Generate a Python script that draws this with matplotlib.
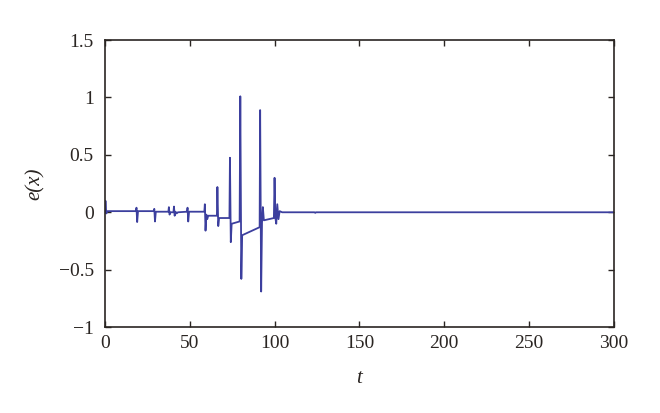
import matplotlib.pyplot as plt

# vertices of the error trace
t = [0, 0.3, 0.8, 1.5,
     18.3, 18.6, 19.0, 19.5,
     28.8, 29.1, 29.5, 30.0,
     37.4, 37.7, 38.1, 38.6,
     40.4, 40.7, 41.1, 41.6, 42.3, 43.0,
     48.4, 48.7, 49.1, 49.6,
     58.6, 58.9, 59.3, 59.8, 60.3, 60.9,
     66.0, 66.3, 66.8, 67.3,
     73.4, 73.7, 74.2, 74.7,
     79.4, 79.8, 80.4, 80.9,
     91.2, 91.5, 92.1, 92.6, 93.1, 93.7,
     99.6, 100.0, 100.5, 101.0, 101.6, 102.3, 103.0, 104.5,
     123.5, 124.0, 124.5, 300]
e = [0.0, 0.1, -0.01, 0.01,
     0.01, 0.04, -0.085, 0.01,
     0.01, 0.03, -0.08, 0.005,
     0.005, 0.045, -0.02, 0.0,
     0.0, 0.05, -0.03, 0.005, -0.01, 0.0,
     0.005, 0.04, -0.08, 0.005,
     0.005, 0.07, -0.16, -0.02, -0.06, -0.03,
     -0.03, 0.22, -0.12, -0.05,
     -0.05, 0.475, -0.26, -0.10,
     -0.08, 1.01, -0.58, -0.20,
     -0.13, 0.89, -0.69, -0.09, 0.045, -0.07,
     -0.05, 0.30, -0.05, -0.10, 0.07, -0.06, 0.01, 0.0,
     0.0, -0.005, 0.0, 0.0]

x_ticks = [0, 50, 100, 150, 200, 250, 300]
y_ticks = [-1, -0.5, 0, 0.5, 1, 1.5]
y_labels = ['\u22121', '\u22120.5', '0', '0.5', '1', '1.5']

plt.rcParams['font.family'] = ['Liberation Serif', 'DejaVu Serif']

fig = plt.figure(figsize=(6.6, 4.13), dpi=100)
ax = fig.add_axes([0.159, 0.208, 0.771, 0.695])

ax.plot(t, e, color='#3c3f9e', linewidth=1.3)

ax.set_xlim(0, 300)
ax.set_ylim(-1, 1.5)
ax.set_xticks(x_ticks)
ax.set_yticks(y_ticks)
ax.set_yticklabels(y_labels)
ax.tick_params(direction='in', top=True, right=True, length=4,
               width=1, labelsize=14, colors='#2a2522')
ax.tick_params(axis='x', pad=6)
ax.tick_params(axis='y', pad=8)
for s in ax.spines.values():
    s.set_color('#2a2522')
    s.set_linewidth(1.2)

ax.set_xlabel('t', fontsize=15, fontstyle='italic', color='#2a2522', labelpad=12)
ax.set_ylabel('e(x)', fontsize=15, fontstyle='italic', color='#2a2522', labelpad=10)

fig.savefig('out.png', dpi=100)
plt.close(fig)
